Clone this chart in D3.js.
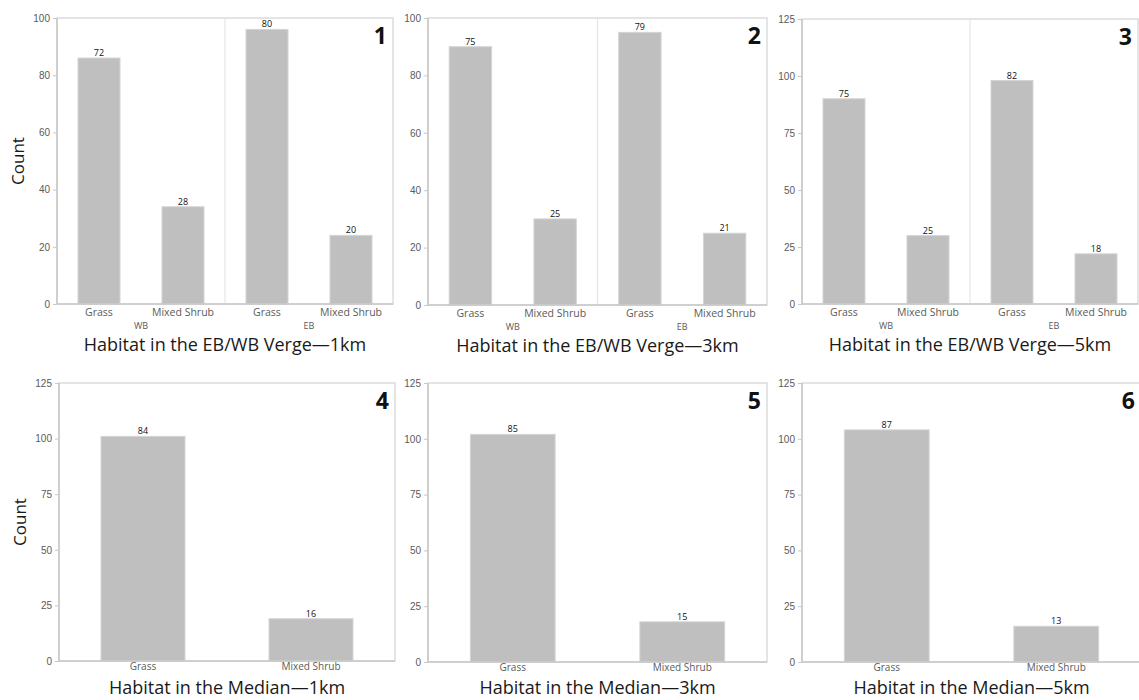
<!DOCTYPE html>
<html>
<head>
<meta charset="utf-8">
<script src="https://cdn.jsdelivr.net/npm/d3@7"></script>
<style>
    body { margin: 0; background: #fff; }
    svg { display: block; font-family: "Open Sans", "Noto Sans", sans-serif; }
    .axis text { fill: #5a5a5a; font-size: 10px; }
    .axis line, .axis path { stroke: #c8c8c8; }
</style>
</head>
<body>
<div id="chart"></div>
<script>
// Categories and groups
const categories = ["Grass", "Mixed Shrub"];
const vergeGroups = ["WB", "EB"];

// Bar heights (counts), order: WB Grass, WB Mixed Shrub, EB Grass, EB Mixed Shrub
const verge1kmCounts = [86, 34, 96, 24];
const verge3kmCounts = [90, 30, 95, 25];
const verge5kmCounts = [90, 30, 98, 22];
// Labels printed above the bars (percent within group)
const verge1kmLabels = [72, 28, 80, 20];
const verge3kmLabels = [75, 25, 79, 21];
const verge5kmLabels = [75, 25, 82, 18];

// Median panels, order: Grass, Mixed Shrub
const median1kmCounts = [101, 19];
const median3kmCounts = [102, 18];
const median5kmCounts = [104, 16];
const median1kmLabels = [84, 16];
const median3kmLabels = [85, 15];
const median5kmLabels = [87, 13];

const ticks100 = [0, 20, 40, 60, 80, 100];
const ticks125 = [0, 25, 50, 75, 100, 125];

const titles = [
    "Habitat in the EB/WB Verge\u20141km",
    "Habitat in the EB/WB Verge\u20143km",
    "Habitat in the EB/WB Verge\u20145km",
    "Habitat in the Median\u20141km",
    "Habitat in the Median\u20143km",
    "Habitat in the Median\u20145km"
];

const svg = d3.select("#chart").append("svg")
    .attr("width", 1139)
    .attr("height", 700);

// panel frames (plot area in pixels)
const panels = [
    { box: [57, 18, 393, 304], counts: verge1kmCounts, labels: verge1kmLabels, ticks: ticks100, grouped: true, yLabel: true },
    { box: [428, 18, 767, 305], counts: verge3kmCounts, labels: verge3kmLabels, ticks: ticks100, grouped: true },
    { box: [802, 19, 1138, 304], counts: verge5kmCounts, labels: verge5kmLabels, ticks: ticks125, grouped: true },
    { box: [59, 383, 395, 661], counts: median1kmCounts, labels: median1kmLabels, ticks: ticks125, grouped: false, yLabel: true },
    { box: [428, 383, 767, 662], counts: median3kmCounts, labels: median3kmLabels, ticks: ticks125, grouped: false },
    { box: [802, 383, 1141, 662], counts: median5kmCounts, labels: median5kmLabels, ticks: ticks125, grouped: false }
];

panels.forEach((p, i) => drawPanel(p, i));

function drawPanel(p, i) {
    const [x0, y0, x1, y1] = p.box;
    const w = x1 - x0, h = y1 - y0;
    const g = svg.append("g").attr("transform", "translate(" + x0 + "," + y0 + ")");

    const groups = p.grouped ? vergeGroups : [""];
    const xGroup = d3.scaleBand().domain(groups).range([0, w]);
    const xCat = d3.scaleBand().domain(categories)
        .range([0, xGroup.bandwidth()])
        .paddingInner(0.5).paddingOuter(0.25);
    const y = d3.scaleLinear()
        .domain([0, d3.max(p.ticks)])
        .range([h, 0]);

    const data = [];
    groups.forEach((grp, gi) => {
        categories.forEach((cat, ci) => {
            const k = gi * categories.length + ci;
            data.push({ group: grp, cat: cat, count: p.counts[k], label: p.labels[k] });
        });
    });

    // frame
    g.append("rect")
        .attr("width", w).attr("height", h)
        .attr("fill", "none")
        .attr("stroke", "#dcdcdc")
        .attr("stroke-width", 1.5);

    // group separators
    groups.slice(1).forEach(grp => {
        g.append("line")
            .attr("x1", xGroup(grp)).attr("x2", xGroup(grp))
            .attr("y1", 0).attr("y2", h)
            .attr("stroke", "#e6e6e6").attr("stroke-width", 1.2);
    });

    // bars
    g.selectAll(".bar")
        .data(data)
        .enter().append("rect")
        .attr("class", "bar")
        .attr("x", d => xGroup(d.group) + xCat(d.cat))
        .attr("width", xCat.bandwidth())
        .attr("y", d => y(d.count))
        .attr("height", d => h - y(d.count))
        .attr("fill", "#bfbfbf")
        .attr("stroke", "#d4d4d4")
        .attr("stroke-width", 1);

    // value labels
    g.selectAll(".val")
        .data(data)
        .enter().append("text")
        .attr("class", "val")
        .attr("x", d => xGroup(d.group) + xCat(d.cat) + xCat.bandwidth() / 2)
        .attr("y", d => y(d.count) - 2)
        .attr("text-anchor", "middle")
        .attr("font-size", 9)
        .attr("fill", "#111")
        .text(d => d.label);

    // y axis
    const yAxis = d3.axisLeft(y).tickValues(p.ticks).tickSize(4).tickPadding(3);
    g.append("g").attr("class", "axis").call(yAxis)
        .call(a => a.select(".domain").remove());
    g.append("line")
        .attr("x1", 0).attr("x2", 0).attr("y1", 0).attr("y2", h)
        .attr("stroke", "#c8c8c8").attr("stroke-width", 1.5);

    // x axis line
    g.append("line")
        .attr("x1", 0).attr("x2", w).attr("y1", h).attr("y2", h)
        .attr("stroke", "#c8c8c8").attr("stroke-width", 1.5);

    // category labels
    g.selectAll(".cat")
        .data(data)
        .enter().append("text")
        .attr("class", "cat")
        .attr("x", d => xGroup(d.group) + xCat(d.cat) + xCat.bandwidth() / 2)
        .attr("y", p.grouped ? h + 12 : h + 9)
        .attr("text-anchor", "middle")
        .attr("font-size", p.grouped ? 10.5 : 10)
        .attr("fill", "#5a5a5a")
        .text(d => d.cat);

    // group labels
    if (p.grouped) {
        g.selectAll(".grp")
            .data(groups)
            .enter().append("text")
            .attr("x", d => xGroup(d) + xGroup.bandwidth() / 2)
            .attr("y", h + 25)
            .attr("text-anchor", "middle")
            .attr("font-size", 9)
            .attr("fill", "#5a5a5a")
            .text(d => d);
    }

    // title
    g.append("text")
        .attr("x", w / 2)
        .attr("y", p.grouped ? h + 47 : 694 - y0)
        .attr("text-anchor", "middle")
        .attr("font-size", 18)
        .attr("fill", "#1a1a1a")
        .text(titles[i]);

    // panel number
    g.append("text")
        .attr("x", w - 6)
        .attr("y", 26)
        .attr("text-anchor", "end")
        .attr("font-size", 23)
        .attr("font-weight", "bold")
        .attr("fill", "#111")
        .text(i + 1);

    // y axis title
    if (p.yLabel) {
        g.append("text")
            .attr("transform", "translate(" + (-33) + "," + (h / 2) + ") rotate(-90)")
            .attr("text-anchor", "middle")
            .attr("font-size", 17)
            .attr("fill", "#1a1a1a")
            .text("Count");
    }
}
</script>
</body>
</html>
